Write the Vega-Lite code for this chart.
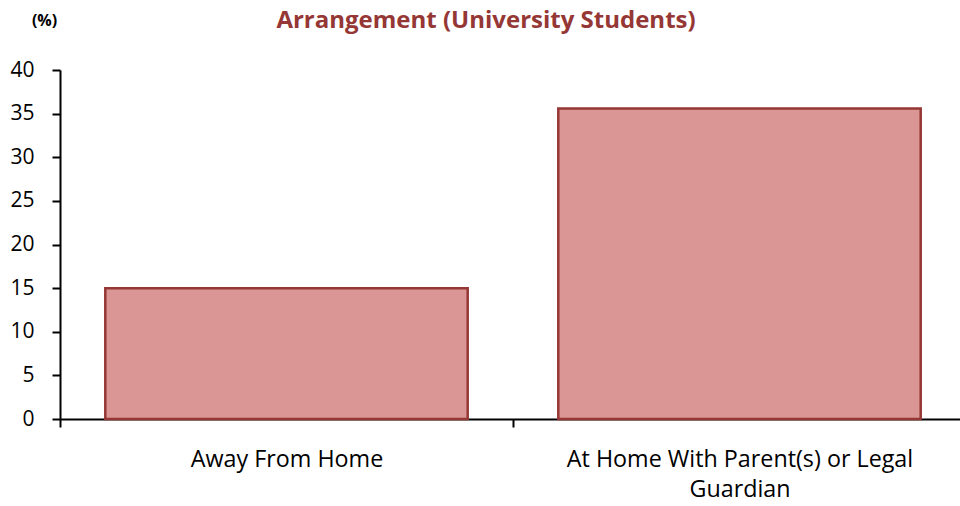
{
  "$schema": "https://vega.github.io/schema/vega-lite/v6.json",
  "width": 906,
  "height": 349,
  "autosize": "none",
  "padding": {"left": 60, "top": 70, "right": 0, "bottom": 87},
  "background": "white",
  "config": {"view": {"stroke": null}, "font": "Open Sans"},
  "title": {
    "text": "Arrangement (University Students)",
    "color": "#953735",
    "font": "Open Sans",
    "fontSize": 24,
    "fontWeight": "bold",
    "anchor": "middle",
    "dx": -27,
    "offset": -21
  },
  "data": {
    "values": [
      {"arrangement": "Away From Home", "pct": 15.0},
      {"arrangement": "At Home With Parent(s) or Legal|Guardian", "pct": 35.6}
    ]
  },
  "mark": {"type": "bar", "fill": "#D99694", "stroke": "#953735", "strokeWidth": 2.5, "width": {"band": 0.8}},
  "encoding": {
    "x": {
      "field": "arrangement",
      "type": "nominal",
      "sort": null,
      "scale": {"paddingInner": 0, "paddingOuter": 0},
      "axis": {
        "title": null,
        "labelAngle": 0,
        "labelExpr": "split(datum.label, '|')",
        "labelFont": "Open Sans",
        "labelFontSize": 23.3,
        "labelColor": "black",
        "labelLineHeight": 30,
        "labelLimit": 0,
        "labelPadding": 21,
        "tickBand": "extent",
        "tickSize": 8,
        "tickColor": "black",
        "domainColor": "black",
        "domainWidth": 2,
        "tickWidth": 2
      }
    },
    "y": {
      "field": "pct",
      "type": "quantitative",
      "scale": {"domain": [0, 40]},
      "axis": {
        "values": [0, 5, 10, 15, 20, 25, 30, 35, 40],
        "grid": false,
        "title": "(%)",
        "titleAngle": 0,
        "titleFont": "Open Sans",
        "titleFontSize": 16,
        "titleFontWeight": "bold",
        "titleColor": "black",
        "titleX": -16,
        "titleY": -50,
        "titleAlign": "center",
        "titleBaseline": "middle",
        "labelFont": "Open Sans",
        "labelFontSize": 21,
        "labelColor": "black",
        "labelPadding": 18,
        "tickSize": 8,
        "tickColor": "black",
        "domainColor": "black",
        "domainWidth": 2,
        "tickWidth": 2
      }
    }
  }
}
